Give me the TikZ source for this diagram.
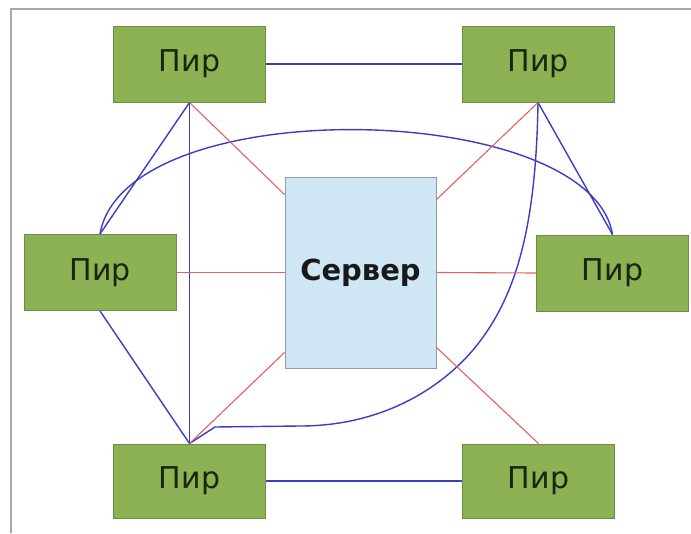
\documentclass[tikz,border=0pt]{standalone}
\usepackage{fontspec}
\setmainfont{DejaVu Sans}
\definecolor{peerfill}{HTML}{8DB253}
\definecolor{peerdraw}{HTML}{6E8C45}
\definecolor{peertext}{HTML}{17260C}
\definecolor{srvfill}{HTML}{CFE6F4}
\definecolor{srvdraw}{HTML}{8E9CA8}
\definecolor{linkblue}{HTML}{3D3DC4}
\definecolor{linkred}{HTML}{E26262}
\definecolor{framegray}{HTML}{A8A8A8}
\tikzset{
  peer/.style={draw=peerdraw, line width=1pt, fill=peerfill, text=peertext,
    minimum width=152pt, minimum height=76pt, inner sep=0pt,
    font=\fontsize{30}{36}\selectfont},
  server/.style={draw=srvdraw, line width=1pt, fill=srvfill, text=black!90,
    minimum width=151pt, minimum height=191pt, inner sep=0pt,
    font=\fontsize{29}{34}\selectfont\bfseries},
  bluelink/.style={draw=linkblue, line width=1.4pt},
  redlink/.style={draw=linkred, line width=1.1pt},
}
\begin{document}
\begin{tikzpicture}[x=1pt, y=-1pt]
\useasboundingbox (0,0) rectangle (691,533);
\fill[white] (0,0) rectangle (691,533);
% outer frame (left and top edges)
\draw[framegray, line width=2pt] (11,533) -- (11,9) -- (691,9);

% central server
\node[server] (srv) at (360.5,272.5) {Сервер};

% peers
\node[peer] (tl) at (189.5,64) {Пир};
\node[peer] (tr) at (538,64) {Пир};
\node[peer] (ml) at (100,272.5) {Пир};
\node[peer] (mr) at (612.5,273) {Пир};
\node[peer, minimum height=74pt] (bl) at (189.5,481) {Пир};
\node[peer, minimum height=74pt] (br) at (538.5,481) {Пир};

% peer-to-peer links
\draw[bluelink] (tl.east) -- (tr.west);
\draw[bluelink] (bl.east) -- (br.west);
\draw[bluelink] (tl.south) -- (ml.north);
\draw[bluelink] (tl.south) -- (bl.north);
\draw[bluelink] (tr.south) -- (mr.north);
\draw[bluelink] (ml.south) -- (bl.north);
\draw[bluelink] (ml.north) .. controls +(25,-144) and +(-22,-135) .. (mr.north);
\draw[bluelink] (tr.south) .. controls +(-2,128) and (515,300) .. (473,350)
  .. controls (439,390) and (380,426) .. (300,426) -- (215,427) -- (bl.north);

% server links
\draw[redlink] (tl.south) -- ([yshift=-18pt]srv.north west);
\draw[redlink] (tr.south) -- ([yshift=-23pt]srv.north east);
\draw[redlink] (ml.east) -- (srv.west);
\draw[redlink] (mr.west) -- (srv.east);
\draw[redlink] (bl.north) -- ([yshift=16pt]srv.south west);
\draw[redlink] (br.north) -- ([yshift=21pt]srv.south east);
\end{tikzpicture}
\end{document}
